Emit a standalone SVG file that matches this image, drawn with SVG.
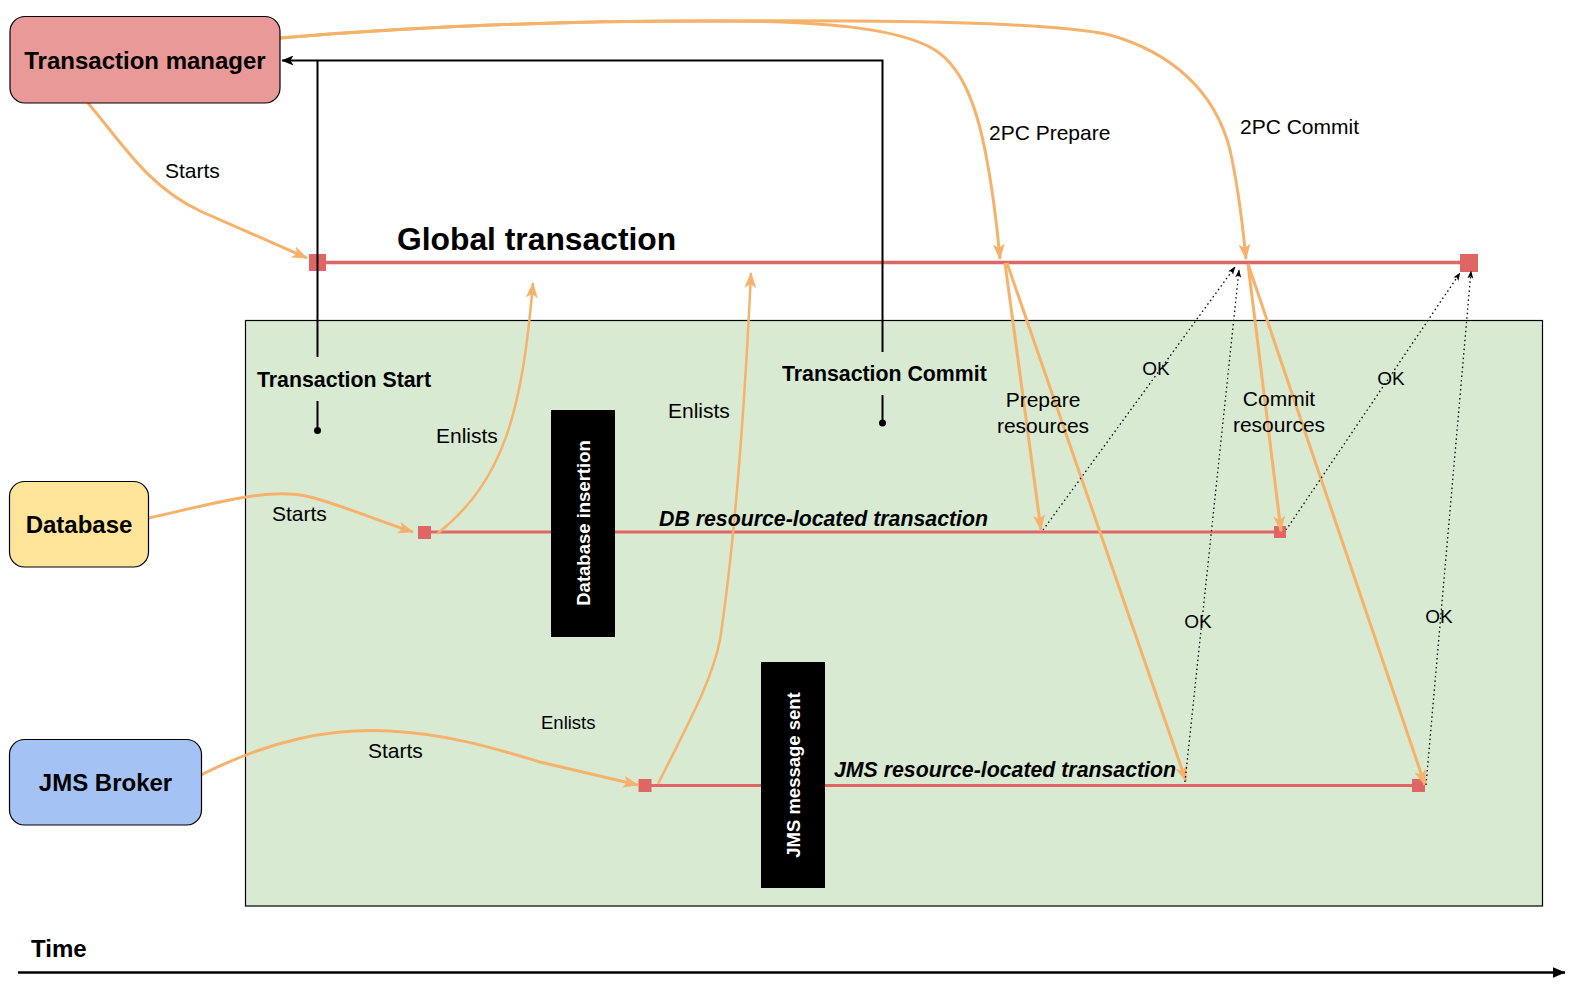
<svg xmlns="http://www.w3.org/2000/svg" width="1574" height="984" viewBox="0 0 1574 984">
<style>
text{font-family:"Liberation Sans",Arial,Helvetica,sans-serif;fill:#000}
.b{font-weight:bold}
.lbl{font-size:21px}
.ok{font-size:19px}
.node{stroke:#000;stroke-width:1.2}
.org{fill:none;stroke:#F6B26B;stroke-width:3}
.org2{fill:none;stroke:#F6B26B;stroke-width:2.5}
.red{stroke:#E06666;fill:none}
.sq{fill:#E06666}
.dot{fill:none;stroke:#000;stroke-width:1.3;stroke-dasharray:1.5 3}
.blk{fill:none;stroke:#000;stroke-width:2}
</style>
<defs>
<marker id="ao" markerUnits="userSpaceOnUse" viewBox="0 0 16 12" markerWidth="16" markerHeight="12" refX="15" refY="6" orient="auto"><path d="M0,0 L16,6 L0,12 L4,6 Z" fill="#F6B26B"/></marker>
<marker id="ad" markerUnits="userSpaceOnUse" viewBox="0 0 8 6" markerWidth="8" markerHeight="6" refX="7.5" refY="3" orient="auto"><path d="M0,0 L8,3 L0,6 L2,3 Z" fill="#000"/></marker>
<marker id="ab" markerUnits="userSpaceOnUse" viewBox="0 0 12 10" markerWidth="12" markerHeight="10" refX="11.5" refY="5" orient="auto"><path d="M0,0 L12,5 L0,10 L3,5 Z" fill="#000"/></marker>
<marker id="at" markerUnits="userSpaceOnUse" viewBox="0 0 13 11" markerWidth="13" markerHeight="11" refX="12.5" refY="5.5" orient="auto"><path d="M0,0 L13,5.5 L0,11 Z" fill="#000"/></marker>
</defs>
<rect width="1574" height="984" fill="#fff"/>

<g id="panel">
<rect x="245.5" y="320.5" width="1297" height="585.5" fill="#D9EAD3" stroke="#000" stroke-width="1.2"/>
</g>

<g id="global-transaction">
<line class="red" x1="318" y1="262.5" x2="1469" y2="262.5" stroke-width="3.5"/>
<rect class="sq" x="309" y="254" width="17" height="17"/>
<rect class="sq" x="1460" y="254" width="18" height="18"/>
<text class="b" x="397" y="250" font-size="31.8">Global transaction</text>
</g>

<g id="db-transaction">
<line class="red" x1="424" y1="532" x2="1280" y2="532" stroke-width="3"/>
<rect class="sq" x="418" y="526" width="13" height="13"/>
<rect class="sq" x="1274" y="526" width="12" height="12"/>
</g>

<g id="jms-transaction">
<line class="red" x1="645" y1="785.5" x2="1418" y2="785.5" stroke-width="3"/>
<rect class="sq" x="638.5" y="779" width="13" height="13"/>
<rect class="sq" x="1412" y="779" width="13" height="13"/>
</g>

<g id="connectors">
<line class="blk" x1="317.5" y1="60.5" x2="317.5" y2="357"/>
<polyline class="blk" points="882.5,352 882.5,60.5 282,60.5" marker-end="url(#ab)"/>
<line class="blk" x1="317.5" y1="401" x2="317.5" y2="430"/>
<circle cx="317.5" cy="430.5" r="3.5"/>
<line class="blk" x1="882.5" y1="395" x2="882.5" y2="422"/>
<circle cx="882.5" cy="423" r="3.5"/>

<path class="org" d="M88,103 C125,147 148,186 200,211 L307,258" marker-end="url(#ao)"/>
<path class="org" d="M149,518 C220,502 270,487 310,497 C342,505 375,520 413,532" marker-end="url(#ao)"/>
<path class="org" d="M201,775 C270,740 330,728 390,731 C450,734 500,750 540,762 L638,785" marker-end="url(#ao)"/>
<path class="org2" d="M437,534 C505,480 522,410 533,283" marker-end="url(#ao)"/>
<path class="org2" d="M658,784 C690,720 712,680 720,640 C735,540 745,400 751,273" marker-end="url(#ao)"/>
<path class="org" d="M280,38 C400,28 550,21 700,21 C820,20 900,28 935,50 C960,66 975,100 985,150 C992,185 997,225 1000,259" marker-end="url(#ao)"/>
<path class="org" d="M280,38 C400,28 550,21 700,21 C900,20 1050,22 1110,35 C1170,52 1215,90 1230,150 C1240,195 1243,230 1246,259" marker-end="url(#ao)"/>
<line class="org" x1="1005" y1="263" x2="1041" y2="530" marker-end="url(#ao)"/>
<line class="org" x1="1007" y1="263" x2="1186" y2="781" marker-end="url(#ao)"/>
<line class="org" x1="1248" y1="264" x2="1281" y2="531" marker-end="url(#ao)"/>
<line class="org" x1="1248" y1="264" x2="1425" y2="785" marker-end="url(#ao)"/>

<line class="dot" x1="1043" y1="530" x2="1235" y2="267" marker-end="url(#ad)"/>
<line class="dot" x1="1185" y1="782" x2="1239" y2="270" marker-end="url(#ad)"/>
<line class="dot" x1="1286" y1="530" x2="1460" y2="273" marker-end="url(#ad)"/>
<line class="dot" x1="1426" y1="785" x2="1471" y2="271" marker-end="url(#ad)"/>

<line x1="18" y1="972.5" x2="1565" y2="972.5" stroke="#000" stroke-width="2.5" marker-end="url(#at)"/>
</g>

<g id="transaction-manager">
<rect class="node" x="10" y="16.5" width="270" height="86.5" rx="15" fill="#EA9999"/>
<text class="b" x="145" y="69" font-size="24" text-anchor="middle">Transaction manager</text>
</g>

<g id="database">
<rect class="node" x="9.5" y="481.5" width="139" height="85.5" rx="15" fill="#FFE599"/>
<text class="b" x="79" y="532.5" font-size="24" text-anchor="middle">Database</text>
</g>

<g id="jms-broker">
<rect class="node" x="9.5" y="739.5" width="192" height="85.5" rx="15" fill="#A4C2F4"/>
<text class="b" x="105.5" y="790.5" font-size="24" text-anchor="middle">JMS Broker</text>
</g>

<g id="database-insertion">
<rect x="551" y="410" width="64" height="227" fill="#000"/>
<text class="b" transform="translate(590,523) rotate(-90)" font-size="18.5" text-anchor="middle" style="fill:#fff">Database insertion</text>
</g>

<g id="jms-message-sent">
<rect x="761" y="662" width="64" height="226" fill="#000"/>
<text class="b" transform="translate(799.5,775) rotate(-90)" font-size="18.5" text-anchor="middle" style="fill:#fff">JMS message sent</text>
</g>

<g id="labels">
<text class="lbl" x="165" y="178">Starts</text>
<text class="b" x="257" y="387" font-size="21.3">Transaction Start</text>
<text class="b" x="782" y="381" font-size="21.3">Transaction Commit</text>
<text class="lbl" x="436" y="443">Enlists</text>
<text class="lbl" x="668" y="418">Enlists</text>
<text class="lbl" x="272" y="521">Starts</text>
<text class="b" x="659" y="526" font-size="21.3" font-style="italic">DB resource-located transaction</text>
<text class="b" x="834" y="777" font-size="21.3" font-style="italic">JMS resource-located transaction</text>
<text x="541" y="729" font-size="18.5">Enlists</text>
<text class="lbl" x="368" y="758">Starts</text>
<text class="lbl" x="989" y="140">2PC Prepare</text>
<text class="lbl" x="1240" y="134">2PC Commit</text>
<text class="lbl" x="1043" y="407" text-anchor="middle">Prepare</text>
<text class="lbl" x="1043" y="433" text-anchor="middle">resources</text>
<text class="lbl" x="1279" y="406" text-anchor="middle">Commit</text>
<text class="lbl" x="1279" y="432" text-anchor="middle">resources</text>
<text class="ok" x="1156" y="375" text-anchor="middle">OK</text>
<text class="ok" x="1391" y="385" text-anchor="middle">OK</text>
<text class="ok" x="1198" y="628" text-anchor="middle">OK</text>
<text class="ok" x="1439" y="623" text-anchor="middle">OK</text>
<text class="b" x="31" y="957" font-size="24">Time</text>
</g>
</svg>
